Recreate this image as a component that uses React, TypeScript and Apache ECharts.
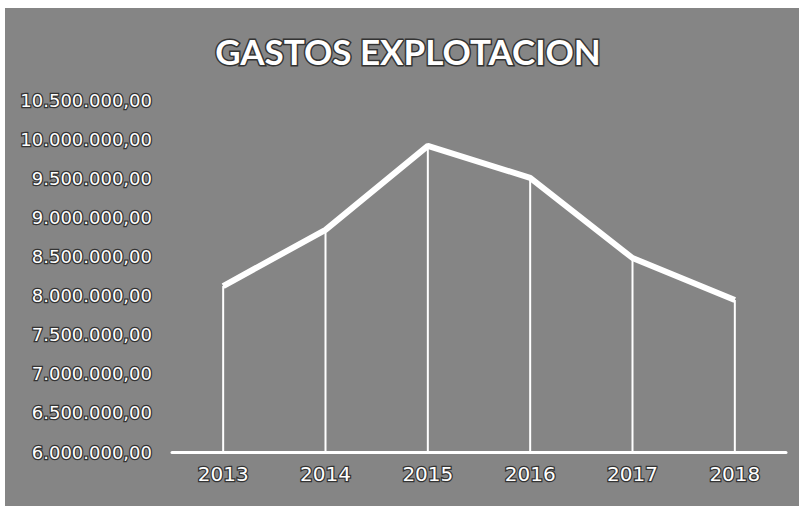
import React, { useEffect, useRef } from "react";
import * as echarts from "echarts";

const years = ["2013", "2014", "2015", "2016", "2017", "2018"];
const gastos = [8122000, 8840000, 9914000, 9504000, 8480000, 7944000];
const yMin = 6000000;
const yMax = 10500000;
const yStep = 500000;
const titleText = "GASTOS EXPLOTACION";

function fmt(v: number): string {
  const s = Math.round(v).toString().replace(/\B(?=(\d{3})+(?!\d))/g, ".");
  return s + ",00";
}

export default function App() {
  const ref = useRef<HTMLDivElement>(null);
  useEffect(() => {
    document.body.style.margin = "0";
    const chart = echarts.init(ref.current!, null, { renderer: "svg" });
    chart.setOption({
      animation: false,
      backgroundColor: "#858585",
      graphic: [
        {
          type: "text",
          x: 403,
          y: 43,
          style: {
            text: titleText,
            fill: "#ffffff",
            font: "bold 35px Lato",
            align: "center",
            verticalAlign: "middle",
            stroke: "#333333",
            lineWidth: 3,
          },
        },
      ],
      grid: { left: 167, right: 13, top: 92, bottom: 54 },
      xAxis: {
        type: "category",
        data: years,
        boundaryGap: true,
        axisLine: { show: true, lineStyle: { color: "#ffffff", width: 3 } },
        axisTick: { show: false },
        axisLabel: {
          color: "#ffffff",
          fontFamily: "DejaVu Sans",
          fontSize: 20,
          margin: 12,
          textBorderColor: "#333333",
          textBorderWidth: 2.5,
        },
      },
      yAxis: {
        type: "value",
        min: yMin,
        max: yMax,
        interval: yStep,
        axisLine: { show: false },
        axisTick: { show: false },
        splitLine: { show: false },
        axisLabel: {
          color: "#ffffff",
          fontFamily: "DejaVu Sans",
          fontSize: 18,
          margin: 20,
          formatter: (v: number) => fmt(v),
          textBorderColor: "#333333",
          textBorderWidth: 2.5,
        },
      },
      series: [
        {
          type: "bar",
          data: gastos,
          barWidth: 2,
          itemStyle: { color: "#ffffff" },
          z: 1,
        },
        {
          type: "line",
          data: gastos,
          symbol: "none",
          lineStyle: { color: "#ffffff", width: 6 },
          z: 3,
        },
      ],
    });
    return () => chart.dispose();
  }, []);
  return (
    <div style={{ width: 799, height: 506, background: "#ffffff", position: "relative" }}>
      <div
        ref={ref}
        style={{ position: "absolute", left: 5, top: 8, width: 794, height: 498 }}
      />
    </div>
  );
}
